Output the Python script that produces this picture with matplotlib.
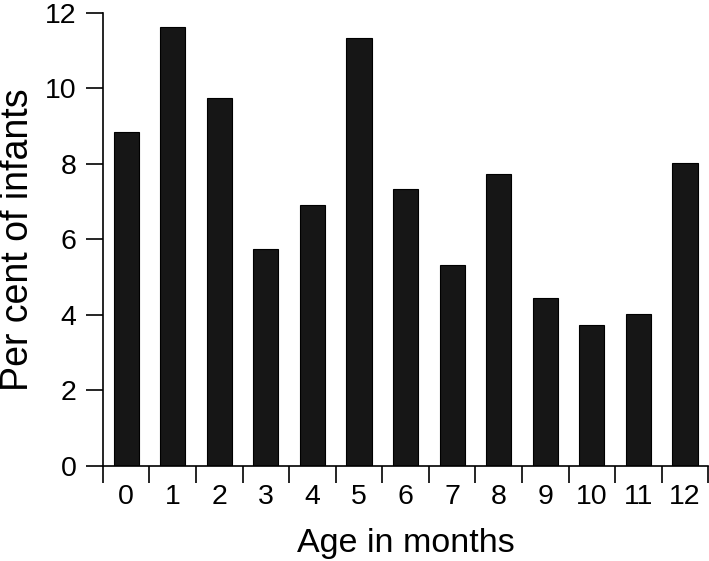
import matplotlib.pyplot as plt
import numpy as np

plt.rcParams['font.family'] = ['Liberation Sans', 'DejaVu Sans']

# data
ages = list(range(13))
age_labels = [str(a) for a in ages]
per_cent = [8.85, 11.63, 9.75, 5.75, 6.92, 11.33, 7.32, 5.32, 7.72, 4.43, 3.73, 4.02, 8.03]

fig = plt.figure(figsize=(7.09, 5.61), dpi=100)
ax = fig.add_axes([0.145, 0.170, 0.854, 0.807])

ax.bar(ages, per_cent, width=0.54, color='#161616', edgecolor='black', linewidth=0.8)

ax.set_xlim(-0.5, 12.5)
ax.set_ylim(0, 12)

# ticks between bars on x, labels centred under bars
ax.set_xticks(np.arange(-0.5, 13, 1))
ax.set_xticklabels([])
ax.set_xticks(ages, minor=True)
ax.set_xticklabels(age_labels, minor=True, fontsize=20.5)
ax.tick_params(axis='x', which='major', length=12, width=1.2, direction='out')
ax.tick_params(axis='x', which='minor', length=0, pad=13)

ax.set_yticks(range(0, 13, 2))
ax.tick_params(axis='y', length=12, width=1.2, labelsize=20.5, pad=7)

for s in ['top', 'right']:
    ax.spines[s].set_visible(False)
for s in ['left', 'bottom']:
    ax.spines[s].set_linewidth(1.2)

ax.set_xlabel('Age in months', fontsize=24.5, labelpad=13)
ax.set_ylabel('Per cent of infants', fontsize=27, labelpad=6)

fig.savefig('out.png', dpi=100)
